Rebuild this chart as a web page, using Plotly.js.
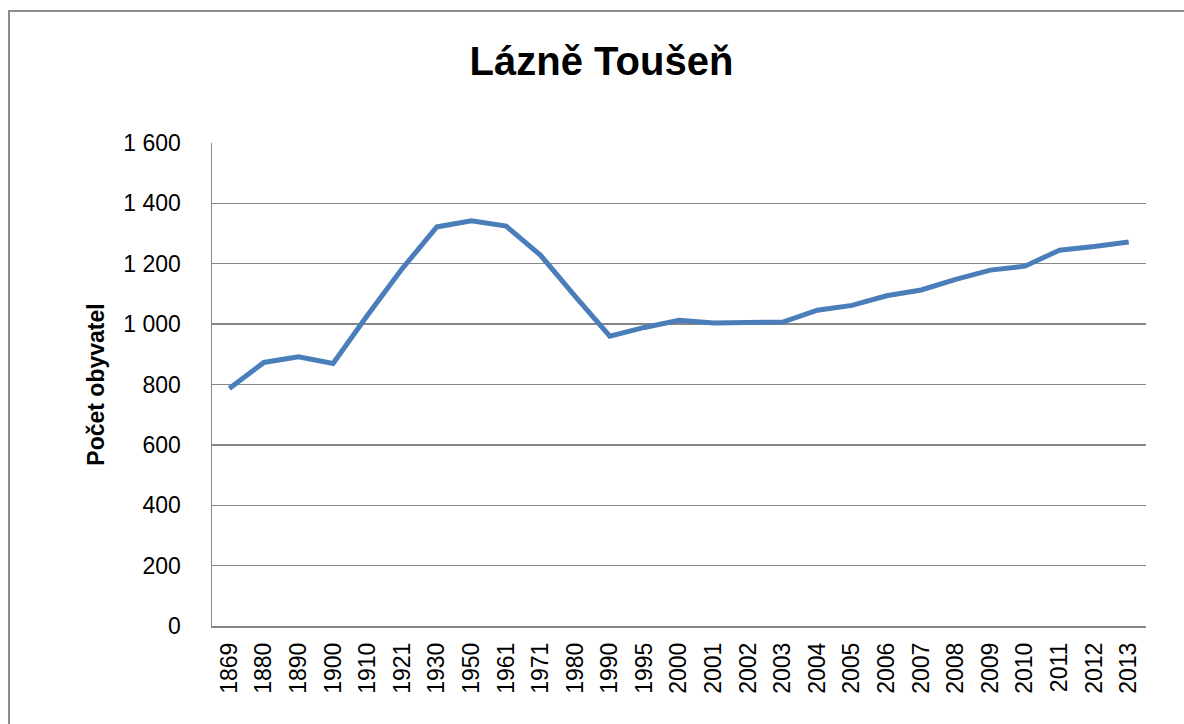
<!DOCTYPE html>
<html>
<head>
<meta charset="utf-8">
<script src="https://cdn.plot.ly/plotly-3.0.1.min.js"></script>
<style>
  html, body { margin: 0; padding: 0; background: #ffffff; }
  #wrap { position: relative; width: 1184px; height: 724px; overflow: hidden; }
  #chart { position: absolute; left: 0; top: 0; width: 1184px; height: 724px; }
  #frame { position: absolute; left: 8px; top: 10px; width: 1200px; height: 740px;
           border-left: 2px solid #8c8c8c; border-top: 2px solid #8c8c8c; pointer-events: none; }
</style>
</head>
<body>
<div id="wrap">
  <div id="chart"></div>
  <div id="frame"></div>
</div>
<script>
const chartTitle = "Lázně Toušeň";
const yAxisTitle = "Počet obyvatel";
const years = ["1869","1880","1890","1900","1910","1921","1930","1950","1961","1971","1980","1990","1995","2000","2001","2002","2003","2004","2005","2006","2007","2008","2009","2010","2011","2012","2013"];
const population = [787, 873, 892, 870, 1030, 1184, 1322, 1342, 1325, 1228, 1092, 960, 989, 1013, 1004, 1004, 1007, 1046, 1062, 1094, 1113, 1148, 1179, 1192, 1245, 1257, 1272];
const yTickVals = [0, 200, 400, 600, 800, 1000, 1200, 1400, 1600];
const yTickText = ["0", "200", "400", "600", "800", "1 000", "1 200", "1 400", "1 600"];

const trace = {
  x: years,
  y: population,
  type: "scatter",
  mode: "lines",
  line: { color: "#4a7ebb", width: 5 },
  hoverinfo: "x+y"
};

const layout = {
  width: 1184,
  height: 724,
  paper_bgcolor: "rgba(0,0,0,0)",
  plot_bgcolor: "#ffffff",
  margin: { l: 212, r: 38, t: 143, b: 98, pad: 0 },
  showlegend: false,
  title: {
    text: "<b>" + chartTitle + "</b>",
    font: { family: "Liberation Sans, Arial, sans-serif", size: 40, color: "#000000" },
    x: 0.508, xref: "container", xanchor: "center",
    y: 0.916, yref: "container", yanchor: "middle"
  },
  xaxis: {
    type: "category",
    range: [-0.5, years.length - 0.5],
    showline: true, linecolor: "#868686", linewidth: 1.5,
    showgrid: false, zeroline: false,
    ticks: "",
    tickangle: -90,
    ticklabelstandoff: 6,
    tickfont: { family: "Liberation Sans, Arial, sans-serif", size: 23, color: "#000000" },
    fixedrange: true
  },
  yaxis: {
    range: [0, 1600],
    tickvals: yTickVals,
    ticktext: yTickText,
    showline: true, linecolor: "#868686", linewidth: 1.5,
    showgrid: true, gridcolor: "#868686", gridwidth: 1.3,
    zeroline: false,
    ticks: "",
    ticklabelstandoff: 25,
    tickfont: { family: "Liberation Sans, Arial, sans-serif", size: 23, color: "#000000" },
    title: {
      text: "<b>" + yAxisTitle + "</b>",
      font: { family: "Liberation Sans, Arial, sans-serif", size: 23, color: "#000000" },
      standoff: 12
    },
    fixedrange: true
  }
};

Plotly.newPlot("chart", [trace], layout, { displayModeBar: false, staticPlot: true });
</script>
</body>
</html>
